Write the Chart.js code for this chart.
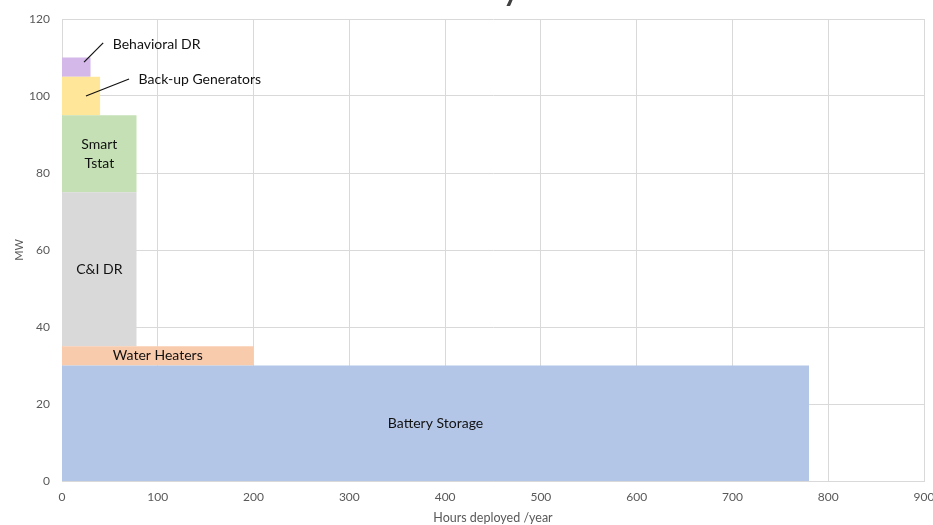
<!DOCTYPE html>
<html>
<head>
<meta charset="utf-8">
<script src="https://cdn.jsdelivr.net/npm/chart.js@4/dist/chart.umd.min.js"></script>
<style>
  html, body { margin: 0; padding: 0; background: #fff; }
  #wrap { width: 933px; height: 525px; }
</style>
</head>
<body>
<div id="wrap"><canvas id="chart" width="933" height="525"></canvas></div>
<script>
// Resources, each one a block: width = hours deployed per year, from base MW to top MW
const resources = ["Battery Storage", "Water Heaters", "C&I DR", "Smart Tstat", "Back-up Generators", "Behavioral DR"];
const hours = [780, 200, 78, 78, 40, 30];
const mwBase = [0, 30, 35, 75, 95, 105];
const mwTop = [30, 35, 75, 95, 105, 110];
const colors = ["#b4c6e7", "#f8cbad", "#d9d9d9", "#c5e0b4", "#ffe699", "#d5b8ea"];

// Tick labels
const xTicks = [0, 100, 200, 300, 400, 500, 600, 700, 800, 900];
const yTicks = [0, 20, 40, 60, 80, 100, 120];

// Labels drawn inside their block (multi-line allowed)
const innerLabels = { "Battery Storage": ["Battery Storage"], "Water Heaters": ["Water Heaters"], "C&I DR": ["C&I DR"], "Smart Tstat": ["Smart", "Tstat"] };
// Labels with leader lines, in data units: [lineFromX, lineFromY, lineToX, lineToY, textX, textY]
const calloutNames = ["Behavioral DR", "Back-up Generators"];
const callouts = [[23, 108.8, 43, 113.8, 53, 113.5], [25, 100, 70, 104.4, 80, 104.4]];

const FONT = "Lato, 'Open Sans', sans-serif";

const datasets = resources.map((name, i) => ({
  label: name,
  data: [{ x: 0, y: mwTop[i] }, { x: hours[i], y: mwTop[i] }],
  borderWidth: 0,
  borderColor: colors[i],
  backgroundColor: colors[i],
  pointRadius: 0,
  fill: { value: mwBase[i] },
  tension: 0
}));

const labelPlugin = {
  id: "blockLabels",
  afterDatasetsDraw(chart) {
    const { ctx, scales: { x, y } } = chart;
    ctx.save();
    ctx.fillStyle = "#111";
    ctx.font = "14px " + FONT;
    ctx.textAlign = "center";
    ctx.textBaseline = "middle";
    resources.forEach((name, i) => {
      const lines = innerLabels[name];
      if (!lines) return;
      const cx = x.getPixelForValue(hours[i] / 2);
      const cy = y.getPixelForValue((mwBase[i] + mwTop[i]) / 2);
      const lh = 19;
      lines.forEach((t, k) => {
        ctx.fillText(t, cx, cy + (k - (lines.length - 1) / 2) * lh);
      });
    });
    ctx.textAlign = "left";
    ctx.strokeStyle = "#111";
    ctx.lineWidth = 1.2;
    callouts.forEach((c, i) => {
      ctx.beginPath();
      ctx.moveTo(x.getPixelForValue(c[0]), y.getPixelForValue(c[1]));
      ctx.lineTo(x.getPixelForValue(c[2]), y.getPixelForValue(c[3]));
      ctx.stroke();
      ctx.fillText(calloutNames[i], x.getPixelForValue(c[4]), y.getPixelForValue(c[5]));
    });
    // cut-off title fragment at the very top
    ctx.fillStyle = "#404040";
    ctx.font = "bold 30px " + FONT;
    ctx.textBaseline = "alphabetic";
    ctx.fillText("y", 503, 1);
    ctx.restore();
  }
};

new Chart(document.getElementById("chart"), {
  type: "line",
  data: { datasets },
  options: {
    responsive: false,
    animation: false,
    layout: { padding: { top: 19, right: 9, left: 0, bottom: 0 } },
    plugins: { legend: { display: false }, tooltip: { enabled: false } },
    scales: {
      x: {
        type: "linear",
        min: xTicks[0],
        max: xTicks[xTicks.length - 1],
        afterBuildTicks: s => { s.ticks = xTicks.map(v => ({ value: v })); },
        afterFit: s => { s.height = 44; s.paddingRight = 0; s.paddingLeft = 0; },
        grid: { color: "#d9d9d9", drawTicks: false },
        border: { color: "#d9d9d9" },
        ticks: { color: "#595959", font: { family: FONT, size: 12 }, padding: 9 },
        title: { display: true, text: "Hours deployed /year", color: "#595959", font: { family: FONT, size: 12.5 }, padding: { top: 1, bottom: 0 } }
      },
      y: {
        min: yTicks[0],
        max: yTicks[yTicks.length - 1],
        afterBuildTicks: s => { s.ticks = yTicks.map(v => ({ value: v })); },
        afterFit: s => { s.width = 62; s.paddingTop = 0; s.paddingBottom = 0; },
        grid: { color: "#d9d9d9", drawTicks: false },
        border: { color: "#d9d9d9" },
        ticks: { color: "#595959", font: { family: FONT, size: 12 }, padding: 12 },
        title: { display: true, text: "MW", color: "#595959", font: { family: FONT, size: 11 }, padding: { top: 13, bottom: 0 } }
      }
    }
  },
  plugins: [labelPlugin]
});
</script>
</body>
</html>
